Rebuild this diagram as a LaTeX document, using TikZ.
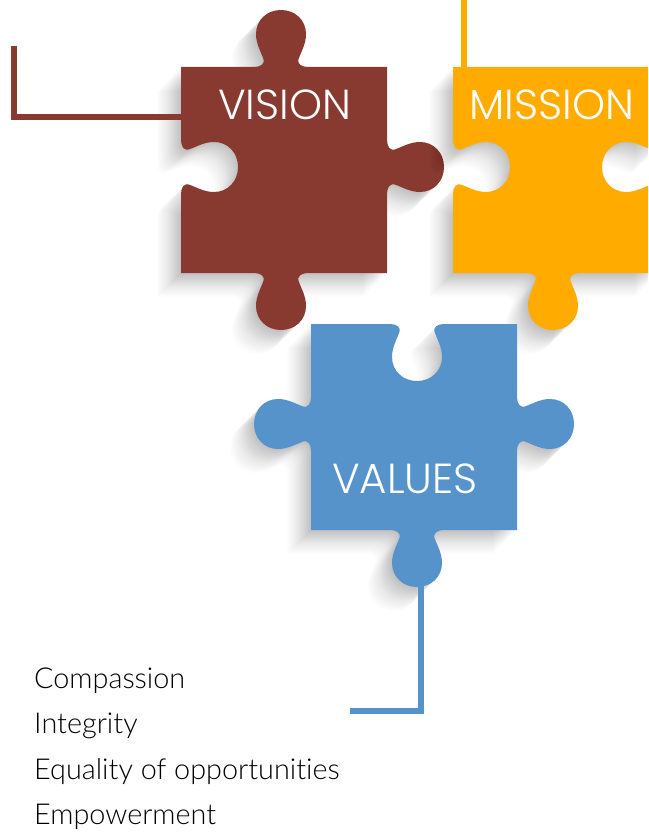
\documentclass[tikz,border=0pt]{standalone}
\usepackage{fontspec}
\newfontfamily\labelfont{Poppins}[UprightFont=* Light]
\newfontfamily\listfont{Lato}[UprightFont=* Light, Ligatures=NoCommon]
\definecolor{visionred}{HTML}{883A30}
\definecolor{missionyellow}{HTML}{FFAB00}
\definecolor{valuesblue}{HTML}{5693CA}
\tikzset{
  piecelabel/.style={anchor=base, text=white, font=\labelfont\fontsize{42}{42}\selectfont},
  listitem/.style={anchor=base west, text=black, inner sep=0pt, font=\listfont\fontsize{28.8}{30}\selectfont},
  connector/.style={line width=6pt, miter limit=10}
}
% one side of a piece: centre, angle, sign (1 tab, -1 notch, 0 flat)
\newcommand{\tabside}[3]{
  {[shift={#1}, rotate=#2, yscale=#3]
   -- (-27,0) .. controls (-21,0) and (-15,3) .. (-18,9)
   .. controls (-20,15) and (-25,23) .. (-25,33)
   .. controls (-25,47) and (-14,57) .. (0,57)
   .. controls (14,57) and (25,47) .. (25,33)
   .. controls (25,23) and (20,15) .. (18,9)
   .. controls (15,3) and (21,0) .. (27,0)}
}
% left, top, signs of top/right/bottom/left, shift of the tabs
\newcommand{\piecepath}[7]{
  (#1,#2) \tabside{(#1+103+#7,#2)}{0}{#3}
  -- (#1+206,#2) \tabside{(#1+206,#2-100)}{-90}{#4}
  -- (#1+206,#2-206) \tabside{(#1+103+#7,#2-206)}{180}{#5}
  -- (#1,#2-206) \tabside{(#1,#2-100)}{90}{#6} -- cycle
}
\newcommand{\visionpath}{\piecepath{181}{-67}{1}{1}{1}{-1}{-3}}
\newcommand{\missionpath}{\piecepath{453}{-67}{0}{-1}{1}{-1}{-3}}
\newcommand{\valuespath}{\piecepath{311}{-324}{-1}{1}{1}{1}{3}}
\begin{document}
\begin{tikzpicture}[x=1pt, y=1pt]
\useasboundingbox[clip] (0,0) rectangle (648,-832);
\coordinate (visionend) at (14,-46);
\coordinate (visionjoin) at (182,-117);
\coordinate (missionend) at (464,0);
\coordinate (missionjoin) at (464,-68);
\coordinate (valuesjoin) at (421,-583);
\coordinate (valuesend) at (350,-711);
% pieces, each one throwing its shadow on what is behind it
\foreach \off [evaluate=\off as \fade using 0.006+0.008*(1-\off/25)] in {1,...,24}
{
  \fill[black, opacity=\fade, shift={(-\off,-\off)}] \visionpath;
}
\draw[connector, visionred] (visionend) |- (visionjoin);
\fill[visionred] \visionpath;
\foreach \off [evaluate=\off as \fade using 0.006+0.008*(1-\off/25)] in {1,...,24}
{
  \fill[black, opacity=\fade, shift={(-\off,-\off)}] \missionpath;
}
\draw[connector, missionyellow] (missionend) -- (missionjoin);
\fill[missionyellow] \missionpath;
\foreach \off [evaluate=\off as \fade using 0.006+0.008*(1-\off/25)] in {1,...,24}
{
  \fill[black, opacity=\fade, shift={(-\off,-\off)}] \valuespath;
}
\draw[connector, valuesblue] (valuesjoin) |- (valuesend);
\fill[valuesblue] \valuespath;
\node[piecelabel] (vision) at (284.5,-120) {VISION};
\node[piecelabel] (mission) at (551.7,-120) {MISSION};
\node[piecelabel] (values) at (405,-493) {VALUES};
\node[listitem] (compassion) at (34,-688) {Compassion};
\node[listitem] (integrity) at (34,-733) {Integrity};
\node[listitem] (equality) at (34,-779) {Equality of opportunities};
\node[listitem] (empowerment) at (34,-824) {Empowerment};
\end{tikzpicture}
\end{document}
